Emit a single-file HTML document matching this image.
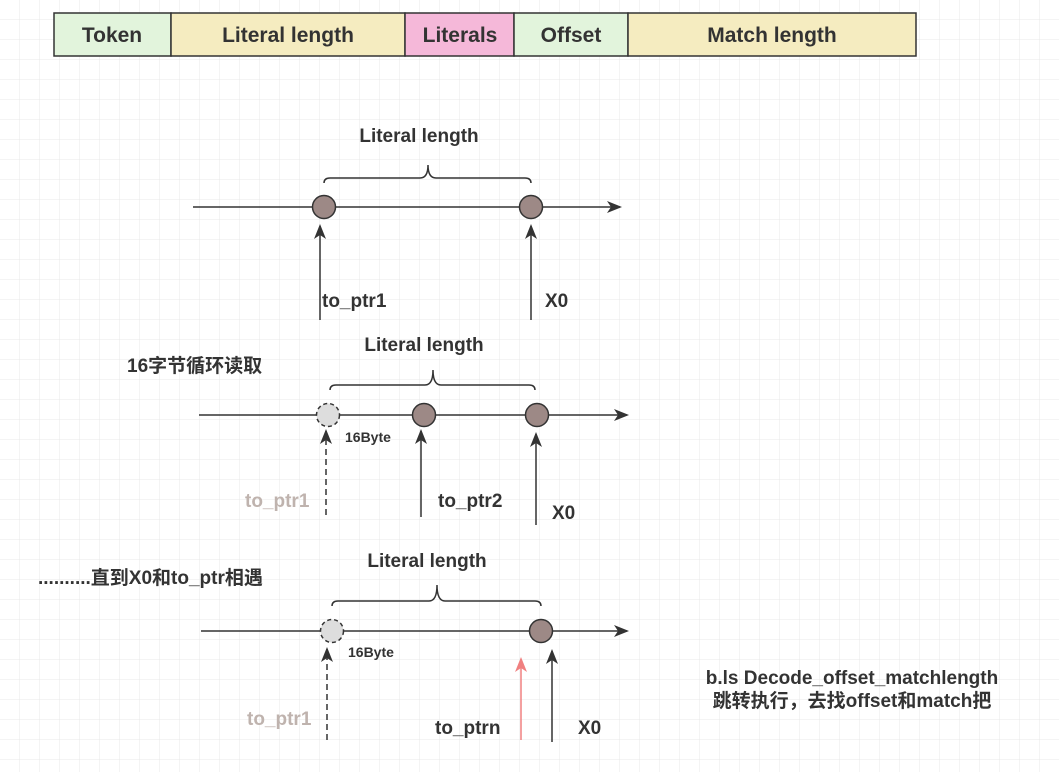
<!DOCTYPE html>
<html><head><meta charset="utf-8"><style>
html,body{margin:0;padding:0;background:#fff;}
svg{display:block;}
text{font-family:"Liberation Sans","Noto Sans CJK SC",sans-serif;font-weight:bold;fill:#333;}
</style></head><body>
<svg width="1059" height="772" viewBox="0 0 1059 772" xmlns="http://www.w3.org/2000/svg">
<defs>
<pattern id="g" width="20" height="20" patternUnits="userSpaceOnUse">
<path d="M20 0V20M0 20H20" stroke="#e8e8e8" stroke-width="1" fill="none"/>
</pattern>
<marker id="a" markerWidth="16" markerHeight="12" refX="13" refY="6" orient="auto" markerUnits="userSpaceOnUse">
<path d="M0 0L15 6L0 12L4 6Z" fill="#333"/>
</marker>
<marker id="ar" markerWidth="16" markerHeight="12" refX="13" refY="6" orient="auto" markerUnits="userSpaceOnUse">
<path d="M0 0L15 6L0 12L4 6Z" fill="#f08080"/>
</marker>
</defs>
<rect width="1059" height="772" fill="url(#g)"/>

<g stroke="#333" stroke-width="1.5">
<rect x="54" y="13" width="117" height="43" fill="#e2f4dc"/>
<rect x="171" y="13" width="234" height="43" fill="#f5ecc0"/>
<rect x="405" y="13" width="109" height="43" fill="#f5b8d9"/>
<rect x="514" y="13" width="114" height="43" fill="#e2f4dc"/>
<rect x="628" y="13" width="288" height="43" fill="#f5ecc0"/>
</g>
<g font-size="21" text-anchor="middle">
<text x="112" y="42">Token</text>
<text x="288" y="42">Literal length</text>
<text x="460" y="42">Literals</text>
<text x="571" y="42">Offset</text>
<text x="772" y="42">Match length</text>
</g>

<g stroke="#333" stroke-width="1.5" fill="none">
<line x1="193" y1="207" x2="620" y2="207" marker-end="url(#a)"/>
<path d="M324 183Q324 178 330 178H420Q428 178 428 165Q428 178 436 178H525Q531 178 531 183"/>
<line x1="320" y1="320" x2="320" y2="226" marker-end="url(#a)"/>
<line x1="531" y1="320" x2="531" y2="226" marker-end="url(#a)"/>
<line x1="199" y1="415" x2="627" y2="415" marker-end="url(#a)"/>
<path d="M330 390Q330 385 336 385H425Q433 385 433 370Q433 385 441 385H529Q535 385 535 390"/>
<line x1="326" y1="515" x2="326" y2="431" stroke-dasharray="6 4" marker-end="url(#a)"/>
<line x1="421" y1="517" x2="421" y2="431" marker-end="url(#a)"/>
<line x1="536" y1="525" x2="536" y2="434" marker-end="url(#a)"/>
<line x1="201" y1="631" x2="627" y2="631" marker-end="url(#a)"/>
<path d="M332 606Q332 601 338 601H429Q437 601 437 585Q437 601 445 601H535Q541 601 541 606"/>
<line x1="327" y1="740" x2="327" y2="649" stroke-dasharray="6 4" marker-end="url(#a)"/>
<line x1="521" y1="740" x2="521" y2="659" stroke="#f08080" marker-end="url(#ar)"/>
<line x1="552" y1="742" x2="552" y2="651" marker-end="url(#a)"/>
</g>
<g stroke="#333" stroke-width="1.5">
<circle cx="324" cy="207" r="11.5" fill="#9d8986"/>
<circle cx="531" cy="207" r="11.5" fill="#9d8986"/>
<circle cx="328" cy="415" r="11.5" fill="#ddd" stroke-dasharray="4 3"/>
<circle cx="424" cy="415" r="11.5" fill="#9d8986"/>
<circle cx="537" cy="415" r="11.5" fill="#9d8986"/>
<circle cx="332" cy="631" r="11.5" fill="#ddd" stroke-dasharray="4 3"/>
<circle cx="541" cy="631" r="11.5" fill="#9d8986"/>
</g>

<g font-size="19">
<text x="419" y="142" text-anchor="middle">Literal length</text>
<text x="424" y="351" text-anchor="middle">Literal length</text>
<text x="427" y="567" text-anchor="middle">Literal length</text>
<text x="322" y="307">to_ptr1</text>
<text x="545" y="307">X0</text>
<text x="245" y="507" style="fill:#bfb3ae">to_ptr1</text>
<text x="438" y="507">to_ptr2</text>
<text x="552" y="519">X0</text>
<text x="247" y="725" style="fill:#bfb3ae">to_ptr1</text>
<text x="435" y="734">to_ptrn</text>
<text x="578" y="734">X0</text>
<text x="852" y="684" text-anchor="middle">b.ls Decode_offset_matchlength</text>
<text x="852" y="707" text-anchor="middle">跳转执行，去找offset和match把</text>
<text x="127" y="372" font-size="19">16字节循环读取</text>
<text x="38" y="584" font-size="19">..........直到X0和to_ptr相遇</text>
</g>
<g font-size="14">
<text x="345" y="442">16Byte</text>
<text x="348" y="657">16Byte</text>
</g>
</svg>
</body></html>
